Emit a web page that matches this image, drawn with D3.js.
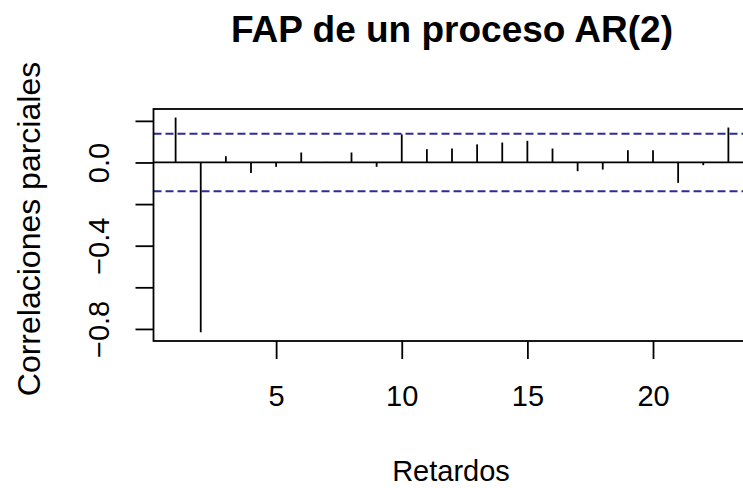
<!DOCTYPE html>
<html lang="es">
<head>
  <meta charset="utf-8">
  <title>FAP de un proceso AR(2)</title>
  <script src="https://d3js.org/d3.v7.min.js"></script>
  <style>
    body { margin: 0; background: #fff; }
    text { font-family: "Liberation Sans", Arial, sans-serif; fill: #000; }
  </style>
</head>
<body>
<div id="chart"></div>
<script>
// partial autocorrelations
var lags = d3.range(1, 24);
var pacfValues = [0.216, -0.816, 0.030, -0.050, -0.021, 0.048, 0.003, 0.048, -0.021, 0.135,
                  0.064, 0.067, 0.087, 0.096, 0.104, 0.067, -0.042, -0.034, 0.059, 0.059,
                  -0.098, -0.013, 0.168];
var ciLimit = 0.1386;           // 1.96 / sqrt(200)
var xTicks = [5, 10, 15, 20];
var yTicks = [0.2, 0.0, -0.2, -0.4, -0.6, -0.8];
var yLabeled = [0.0, -0.4, -0.8];

var W = 743, H = 488;
var plot = {left: 153.5, right: 750.5, top: 109, bottom: 341};

var svg = d3.select("#chart").append("svg")
  .attr("width", W)
  .attr("height", H);

// R style limits: data range stretched by 4% each side
var x = d3.scaleLinear()
  .domain([0.12, 23.88])
  .range([plot.left, plot.right]);
var y = d3.scaleLinear()
  .domain([-0.858, 0.257])
  .range([plot.bottom, plot.top]);

// confidence bands
svg.selectAll(".ci")
  .data([ciLimit, -ciLimit])
  .enter().append("line")
    .attr("class", "ci")
    .attr("x1", plot.left).attr("x2", plot.right)
    .attr("y1", function(d) { return y(d); })
    .attr("y2", function(d) { return y(d); })
    .attr("stroke", "#2b2b9e")
    .attr("stroke-width", 2)
    .attr("stroke-dasharray", "8,4");

// zero line
svg.append("line")
  .attr("x1", plot.left).attr("x2", plot.right)
  .attr("y1", y(0)).attr("y2", y(0))
  .attr("stroke", "#000").attr("stroke-width", 1.8);

// spikes
svg.selectAll(".spike")
  .data(lags)
  .enter().append("line")
    .attr("class", "spike")
    .attr("x1", function(d) { return x(d); })
    .attr("x2", function(d) { return x(d); })
    .attr("y1", y(0))
    .attr("y2", function(d, i) { return y(pacfValues[i]); })
    .attr("stroke", "#000")
    .attr("stroke-width", 1.8);

// box
svg.append("rect")
  .attr("x", plot.left).attr("y", plot.top)
  .attr("width", plot.right - plot.left)
  .attr("height", plot.bottom - plot.top)
  .attr("fill", "none")
  .attr("stroke", "#000")
  .attr("stroke-width", 1.8);

// x axis
var xAxis = svg.append("g")
  .attr("transform", "translate(0," + plot.bottom + ")")
  .call(d3.axisBottom(x).tickValues(xTicks).tickSize(18).tickPadding(26));
xAxis.select(".domain").remove();
xAxis.selectAll("line").attr("stroke-width", 1.8);
xAxis.selectAll("text")
  .style("font-size", "29px")
  .attr("font-family", null);

// y axis, labels turned like R's las = 0
var yAxis = svg.append("g")
  .attr("transform", "translate(" + plot.left + ",0)")
  .call(d3.axisLeft(y).tickValues(yTicks).tickSize(18)
    .tickFormat(function(d) { return yLabeled.indexOf(d) >= 0 ? d3.format(".1f")(d) : ""; }));
yAxis.select(".domain").remove();
yAxis.selectAll("line").attr("stroke-width", 1.8);
yAxis.selectAll("text")
  .style("font-size", "29px")
  .attr("font-family", null)
  .attr("text-anchor", "middle")
  .attr("transform", "rotate(-90)")
  .attr("x", 0)
  .attr("dy", null)
  .attr("y", -(plot.left - 109));

// title and axis labels
svg.append("text")
  .attr("x", 452).attr("y", 42)
  .attr("text-anchor", "middle")
  .style("font-size", "37px")
  .style("font-weight", "bold")
  .text("FAP de un proceso AR(2)");

svg.append("text")
  .attr("x", 451).attr("y", 481)
  .attr("text-anchor", "middle")
  .style("font-size", "29px")
  .text("Retardos");

svg.append("text")
  .attr("transform", "translate(40,229) rotate(-90)")
  .attr("text-anchor", "middle")
  .style("font-size", "32px")
  .text("Correlaciones parciales");
</script>
</body>
</html>
